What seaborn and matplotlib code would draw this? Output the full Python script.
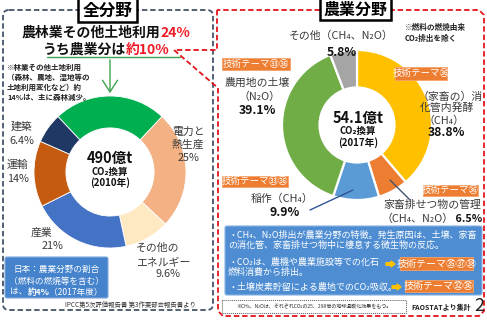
import matplotlib
matplotlib.use('Agg')
import matplotlib.pyplot as plt
import seaborn as sns
from matplotlib.patches import FancyBboxPatch, Rectangle, FancyArrow, PathPatch
from matplotlib.path import Path

# ---------------- data ----------------
world_sectors = ['農林業その他土地利用', '電力と熱生産', 'その他のエネルギー', '産業', '運輸', '建築']
world_shares = [24, 25, 9.6, 21, 14, 6.4]
world_colors = ['#00B050', '#F4B183', '#FFE9C2', '#4472C4', '#C55A11', '#203864']
world_total = '490億t'
world_year = '(2010年)'
agri_part_of_world = 10

agri_sources = ['（家畜の）消化管内発酵（CH₄）', '家畜排せつ物の管理（CH₄、N₂O）',
                '稲作（CH₄）', '農用地の土壌（N₂O）', 'その他（CH₄、N₂O）']
agri_shares = [38.8, 6.5, 9.9, 39.1, 5.8]
agri_colors = ['#FFC000', '#ED7D31', '#5B9BD5', '#70AD47', '#A5A5A5']
agri_total = '54.1億t'
agri_year = '(2017年)'


def pct(v):
    return f"{v:g}%"

# ---------------- figure ----------------
sns.set_theme(style='white')
plt.rcParams['font.family'] = ['Noto Sans CJK JP', 'DejaVu Sans']

W, H = 487, 324
fig = plt.figure(figsize=(W / 100, H / 100), dpi=100)
fig.patch.set_facecolor('white')

fg = fig.add_axes([0, 0, 1, 1], zorder=10)
fg.set_xlim(0, W)
fg.set_ylim(H, 0)
fg.axis('off')
fg.patch.set_alpha(0)

renderer = fig.canvas.get_renderer()
DARK = '#3A3A3A'
RED = '#EE1C25'


def T(x, y, s, size, color=DARK, weight='normal', ha='center', va='center', **kw):
    return fg.text(x, y, s, fontsize=size, color=color, fontweight=weight,
                   ha=ha, va=va, **kw)


def rich(x, y, parts, size, ha='center'):
    objs = [fg.text(0, y, s, fontsize=size, color=c, fontweight=w, ha='left', va='center')
            for s, c, w in parts]
    widths = [o.get_window_extent(renderer).width for o in objs]
    start = x - sum(widths) / 2 if ha == 'center' else x
    for o, w in zip(objs, widths):
        o.set_x(start)
        start += w


def donut(cx, cy, r, values, colors, start, width, elw):
    ax = fig.add_axes([(cx - r) / W, (H - cy - r) / H, 2 * r / W, 2 * r / H], zorder=5)
    ax.pie(values, colors=colors, startangle=start, counterclock=False, radius=1,
           wedgeprops=dict(width=width, edgecolor='white', linewidth=elw))
    ax.set_xlim(-1, 1)
    ax.set_ylim(-1, 1)
    ax.set_aspect('equal')
    ax.axis('off')
    return ax


# ---------------- left panel ----------------
ax1 = donut(110, 172, 76, world_shares, world_colors,
            90 + world_shares[0] / 100 * 180, 0.42, 0.6)
ax2 = donut(357, 125, 75, agri_shares, agri_colors, 90, 0.5, 1.6)

# dashed left box
fg.add_patch(FancyBboxPatch((3, 10), 210, 300, boxstyle='round,pad=0,rounding_size=6',
                            fill=False, ec='#44546A', lw=1.3, ls=(0, (3, 1.6))))
# red dashed outline for agriculture panel
verts = [(217, 10), (217, 50), (174, 50), (218, 88), (218, 311), (223, 316),
         (479, 316), (484, 311), (484, 15), (479, 10), (217, 10)]
fg.add_patch(PathPatch(Path(verts), fill=False, ec='#E3141B', lw=1.3, ls=(0, (3, 1.6))))

# title boxes
fg.add_patch(Rectangle((78, -2), 59, 24, fc='white', ec='black', lw=1.8, zorder=3))
T(107.5, 10.5, '全分野', 12, color='black', weight='bold', zorder=4)
fg.add_patch(Rectangle((320, -2), 71, 22, fc='white', ec='black', lw=1.8, zorder=3))
T(355.5, 9.5, '農業分野', 11.5, color='black', weight='bold', zorder=4)

# headline
rich(106, 33, [(world_sectors[0], '#111111', 'bold'), (pct(world_shares[0]), RED, 'bold')], 10)
rich(106, 50, [('うち農業分は', '#111111', 'bold'), ('約' + pct(agri_part_of_world), RED, 'bold')], 10)

# green connector arrow
fg.plot([47, 180], [57, 57], color='#3FA34D', lw=1)
fg.annotate('', xy=(110, 96), xytext=(110, 57),
            arrowprops=dict(arrowstyle='->,head_length=0.7,head_width=0.45',
                            color='#3FA34D', lw=1))

# note
for i, s in enumerate(['※林業その他土地利用', '（森林、農地、湿地等の', '土地利用変化など）約',
                       '14%は、主に森林減少。']):
    T(7, 67 + i * 10, s, 5.4, color='#222222', weight='bold', ha='left')

# left donut labels
T(22, 127, '建築', 7.8)
T(22, 141, pct(world_shares[5]), 7.8)
T(7, 165, '運輸', 7.8, ha='left')
T(7, 179, pct(world_shares[4]), 7.8, ha='left')
T(188, 132, '電力と', 7.8)
T(188, 145, '熱生産', 7.8)
T(188, 158, pct(world_shares[1]), 7.8)
T(41, 233, '産業', 7.8)
T(52, 246, pct(world_shares[3]), 7.8)
T(158, 248, 'その他の', 7.8)
T(163, 262, 'エネルギー', 7.8)
T(168, 274, pct(world_shares[2]), 7.8)

# center of left donut
T(110, 158, world_total, 10.5, color='#111111', weight='bold')
T(110, 172, 'CO₂換算', 6.8, color='#111111', weight='bold')
T(110, 183, world_year, 7, color='#111111', weight='bold')

# Japan box
fg.add_patch(FancyBboxPatch((5, 257), 103, 41, boxstyle='round,pad=0,rounding_size=2',
                            fc='#4583CC', ec='#7FA9DD', lw=0.8))
T(56.5, 269, '日本：農業分野の割合', 6.2, color='white')
T(56.5, 281, '（燃料の燃焼等を含む）', 6.2, color='white')
rich(56.5, 292, [('は、', 'white', 'normal'), ('約4%', 'white', 'bold'),
                 ('（2017年度）', 'white', 'normal')], 6.2)
T(130, 305, 'IPCC第5次評価報告書 第3作業部会報告書より', 4.6, color='#333333')

# ---------------- right panel ----------------
T(405, 27, '※燃料の燃焼由来', 5.5, color='#222222', weight='bold', ha='left')
T(405, 38, 'CO₂排出を除く', 5.5, color='#222222', weight='bold', ha='left')

T(341, 36, 'その他（CH₄、N₂O）', 7.8)
T(342, 52, pct(agri_shares[4]), 8.8, color='#111111', weight='bold')

T(257, 83, '農用地の土壌', 7.8)
T(260, 97, '（N₂O）', 7.8)
T(257, 110, pct(agri_shares[3]), 8.8, color='#111111', weight='bold')

T(450, 97, '（家畜の）消', 7.8)
T(447, 108, '化管内発酵', 7.8)
T(444, 121, '（CH₄）', 7.8)
T(446, 133, pct(agri_shares[0]), 8.8, color='#111111', weight='bold')

T(282, 199, '稲作（CH₄）', 7.8)
T(285, 213, pct(agri_shares[2]), 8.8, color='#111111', weight='bold')
fg.plot([310, 353], [210, 190], color='#2F5597', lw=1)

T(432, 205, '家畜排せつ物の管理', 7.8)
rich(432, 219, [('（CH₄、N₂O）', DARK, 'normal'), (' ' + pct(agri_shares[1]), '#111111', 'bold')], 7.8)
fg.plot([390, 410], [180, 200], color='#44546A', lw=1)

# center of right donut
T(358, 118, agri_total, 10.5, color='#111111', weight='bold')
T(358, 131, 'CO₂換算', 6.8, color='#111111', weight='bold')
T(358, 143, agri_year, 7, color='#111111', weight='bold')

# technical theme tags
TAG = '#ED7D31'


def tag(x0, y0, x1, y1, s, size=6.8):
    fg.add_patch(Rectangle((x0, y0), x1 - x0, y1 - y0, fc=TAG, ec='#F4A36B', lw=0.6, zorder=6))
    T((x0 + x1) / 2, (y0 + y1) / 2, s, size, color='white', zorder=7)


tag(222, 58, 290, 70, '技術テーマ㉝㊱')
tag(395, 67, 447, 80, '技術テーマ㊱')
tag(222, 176, 288, 187, '技術テーマ㉝㊱')
tag(423, 185, 478, 196, '技術テーマ㊱')

# explanation box
fg.add_patch(FancyBboxPatch((225, 226), 257, 69, boxstyle='round,pad=0,rounding_size=2',
                            fc='#4E8DD2', ec='#86B1E2', lw=0.8))
for y, s in [(235, '・CH₄、N₂O排出が農業分野の特徴。発生原因は、土壌、家畜'),
             (245, 'の消化管、家畜排せつ物中に棲息する微生物の反応。'),
             (262, '・CO₂は、農機や農業施設等での化石'),
             (272, '燃料消費から排出。'),
             (287, '・土壌炭素貯留による農地でのCO₂吸収。')]:
    T(228, y, s, 6.5, color='white', ha='left')
tag(400, 257, 473, 270, '技術テーマ㉟㊲㊳', 7.2)
tag(405, 280, 473, 292, '技術テーマ㉜㊱', 7.2)
fg.add_patch(FancyArrow(386, 264, 5, 0, width=2.6, head_width=6, head_length=4,
                        length_includes_head=False, color='#FFC000', zorder=7))
fg.add_patch(FancyArrow(392, 287, 5, 0, width=2.6, head_width=6, head_length=4,
                        length_includes_head=False, color='#FFC000', zorder=7))

# footnote
fg.add_patch(Rectangle((222, 300), 184, 13, fill=False, ec='#555555', lw=0.7, ls=(0, (1, 1))))
T(314, 306.5, '※CH₄、N₂Oは、それぞれCO₂の25、298倍の地球温暖化効果をもつ。', 3.6, color='#333333')
T(441, 307, 'FAOSTATより集計', 5, color='#222222', weight='bold')
T(479, 306, '2', 13, color='#222222')

fig.savefig('out.png', dpi=100, facecolor='white')
